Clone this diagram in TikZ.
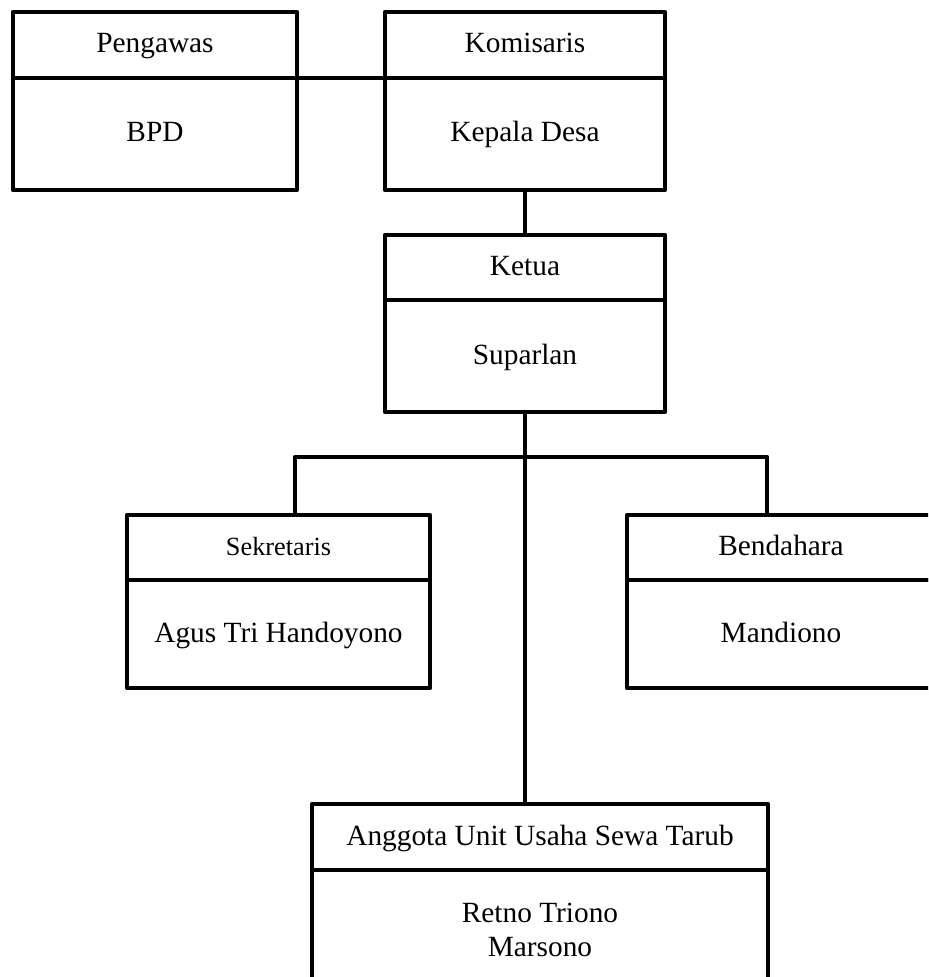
\documentclass[tikz,border=0pt]{standalone}
\usepackage{fontspec}
\setmainfont{Liberation Serif}
\begin{document}
\begin{tikzpicture}[x=0.75pt,y=-0.75pt,
  cellbase/.style={draw=black, line width=3.2pt, line join=round, inner sep=0pt, outer sep=0pt,
    align=center, font=\fontsize{22}{26}\selectfont},
  cell/.style={cellbase, text height=16pt, text depth=4pt},
  link/.style={draw=black, line width=3.2pt, line join=round}]
\useasboundingbox (0,0) rectangle (928,977);
\clip (0,0) rectangle (928,977);
% Pengawas / BPD
\node[cell, minimum width=213pt, minimum height=49.5pt] (pengH) at (155,45) {Pengawas};
\node[cell, minimum width=213pt, minimum height=84pt] (pengB) at (155,134) {BPD};
% Komisaris / Kepala Desa
\node[cell, minimum width=210pt, minimum height=49.5pt] (komH) at (525,45) {Komisaris};
\node[cell, minimum width=210pt, minimum height=84pt] (komB) at (525,134) {Kepala Desa};
% Ketua / Suparlan
\node[cell, minimum width=210pt, minimum height=48.75pt] (ketH) at (525,267.5) {Ketua};
\node[cell, minimum width=210pt, minimum height=84pt] (ketB) at (525,356) {Suparlan};
% Sekretaris
\node[cell, minimum width=227.25pt, minimum height=48.75pt, font=\fontsize{19.7}{24}\selectfont] (sekH) at (278.5,547.5) {Sekretaris};
\node[cell, minimum width=227.25pt, minimum height=81pt] (sekB) at (278.5,634) {Agus Tri Handoyono};
% Bendahara
\node[cell, minimum width=231pt, minimum height=48.75pt] (benH) at (781,547.5) {Bendahara};
\node[cell, minimum width=231pt, minimum height=81pt] (benB) at (781,634) {Mandiono};
% Anggota
\node[cell, minimum width=342pt, minimum height=49.5pt] (angH) at (540,837) {Anggota Unit Usaha Sewa Tarub};
\node[cellbase, minimum width=342pt, minimum height=90pt] (angB) at (540,930) {Retno Triono\\Marsono};
% connectors
\coordinate (busL) at (295,457);
\coordinate (busR) at (767,457);
\draw[link] (pengH.south east) -- (komH.south west);
\draw[link] (komB.south) -- (ketH.north);
\draw[link] (ketB.south) -- (ketB.south |- angH.north);
\draw[link] (busL |- sekH.north) -- (busL) -- (busR) -- (busR |- benH.north);
\end{tikzpicture}
\end{document}
